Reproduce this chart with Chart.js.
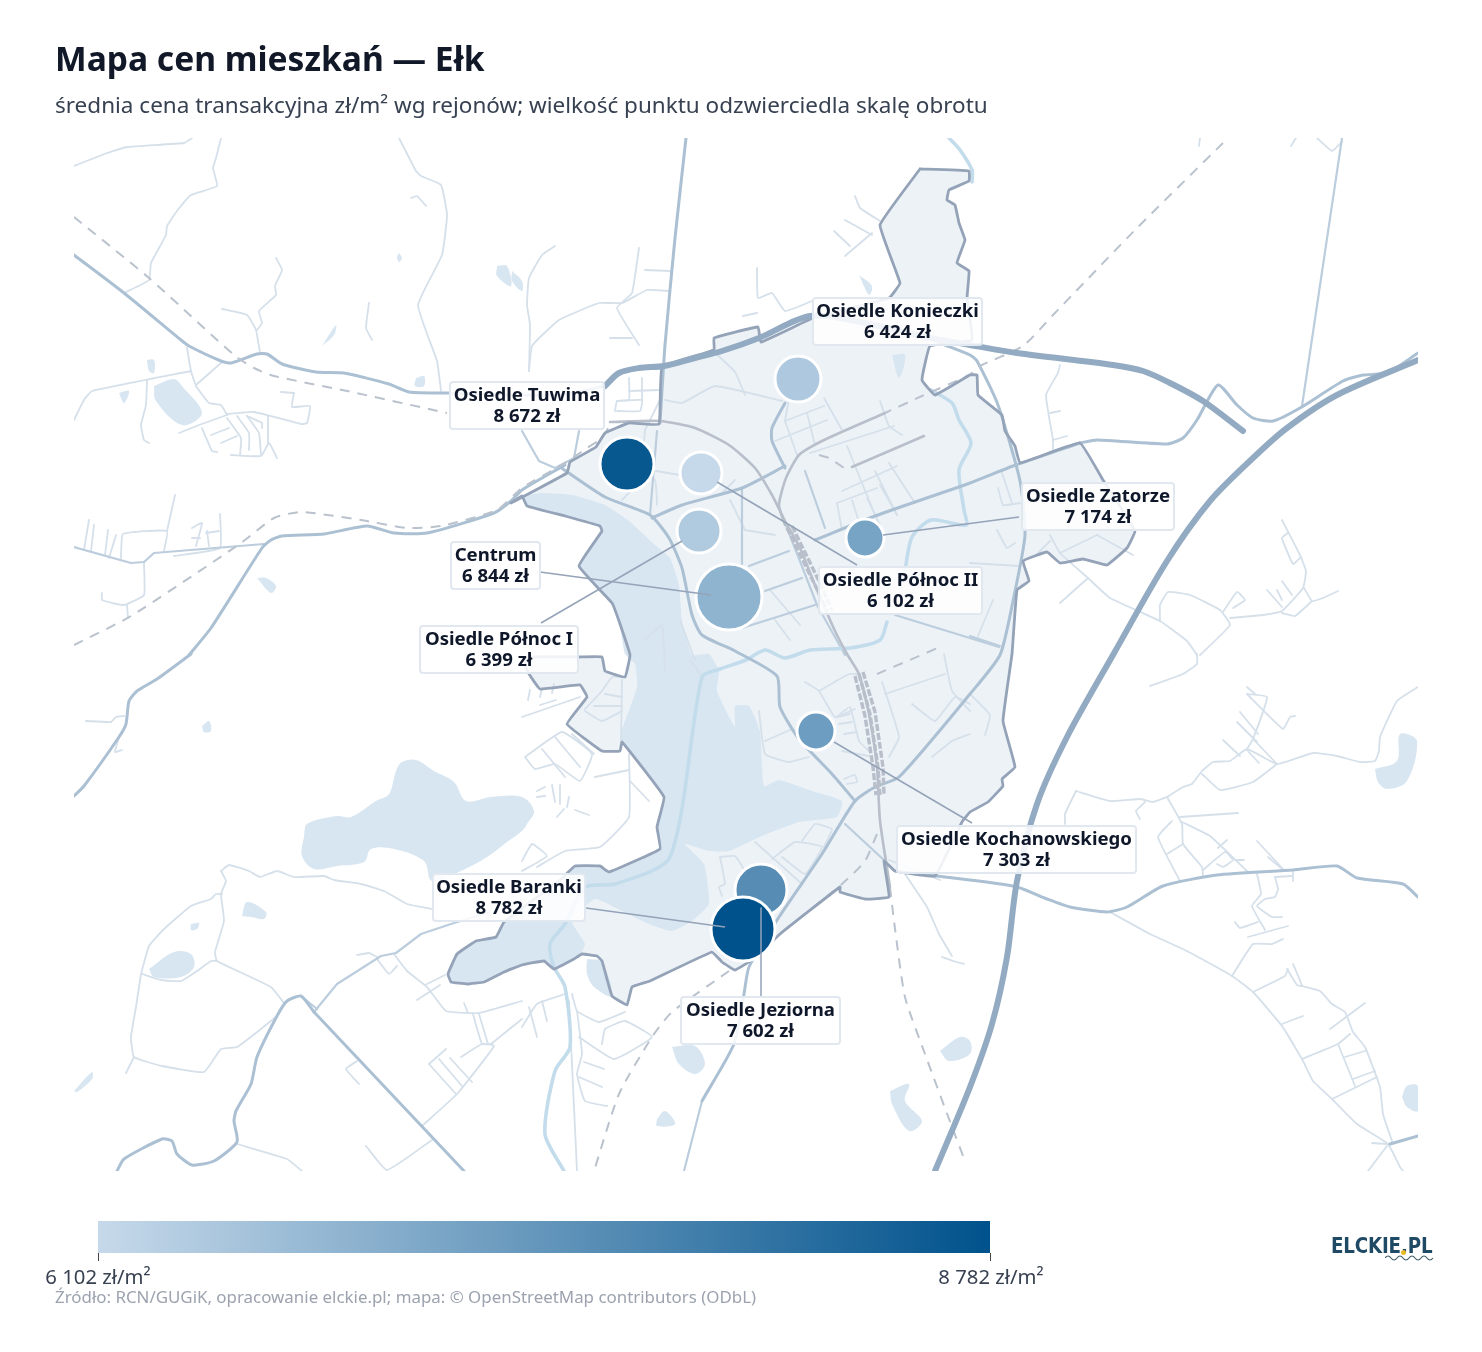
<!DOCTYPE html>
<html lang="pl">
<head>
<meta charset="utf-8">
<title>Mapa cen mieszkań — Ełk</title>
<script src="https://cdn.jsdelivr.net/npm/chart.js@4/dist/chart.umd.min.js"></script>
<style>
  html, body { margin: 0; padding: 0; background: #fff; }
  #page { position: relative; width: 1482px; height: 1352px; overflow: hidden; font-family: "Noto Sans", sans-serif; }
  #mapChart { position: absolute; left: 0; top: 0; }
  .txt { position: absolute; white-space: nowrap; }
  #title { left: 55px; top: 36px; font-size: 33.6px; line-height: 44px; font-weight: 700; color: #111827; }
  #subtitle { left: 55px; top: 90px; font-size: 22.5px; line-height: 30px; color: #374151; }
  #source { left: 55px; top: 1286px; font-size: 16.9px; line-height: 22px; color: #9ca3af; }
  #colorbar { position: absolute; left: 98px; top: 1221px; width: 892px; height: 32px; background: linear-gradient(to right, #c6d9ea, #00528c); }
  .tick { position: absolute; top: 1253px; width: 1px; height: 8px; background: #444; }
  .ticklabel { top: 1263px; font-size: 20.3px; line-height: 26px; color: #374151; transform: translateX(-50%); }
  .lbl { position: absolute; box-sizing: border-box; background: rgba(255,255,255,.86); border: 2px solid #e2e8f0; border-radius: 4px;
         text-align: center; font-weight: 700; font-size: 18.6px; line-height: 21px; color: #0f172a; padding-top: 0; white-space: nowrap; }
  #logo { left: 1331px; top: 1231px; font-size: 22px; line-height: 30px; font-weight: 800; color: #1f4a66; letter-spacing: -.2px; font-family: "DejaVu Sans", sans-serif; transform-origin: left top; transform: scaleX(.83); }
</style>
</head>
<body>
<div id="page">
  <canvas id="mapChart" width="1482" height="1352"></canvas>
  <div class="txt" id="title">Mapa cen mieszkań — Ełk</div>
  <div class="txt" id="subtitle">średnia cena transakcyjna zł/m² wg rejonów; wielkość punktu odzwierciedla skalę obrotu</div>
  <div id="colorbar"></div>
  <div class="tick" style="left:98px"></div>
  <div class="tick" style="left:990px"></div>
  <div class="txt ticklabel" id="tickMin" style="left:98px"></div>
  <div class="txt ticklabel" id="tickMax" style="left:991px"></div>
  <div class="txt" id="source">Źródło: RCN/GUGiK, opracowanie elckie.pl; mapa: © OpenStreetMap contributors (ODbL)</div>
  <div class="txt" id="logo">ELCKIE.PL</div>
  <svg style="position:absolute;left:1385px;top:1253px" width="50" height="10"><path d="M0 5 q3 -4 6 0 t6 0 t6 0 t6 0 t6 0 t6 0 t6 0 t6 0" fill="none" stroke="#44606f" stroke-width="1.2"/></svg>
  <div style="position:absolute;left:1401px;top:1250px;width:5px;height:5px;border-radius:50%;background:#e8b923"></div>
</div>

<script>
// Districts (drawn in this order, Baranki ends up on top of Jeziorna)
const districtNames = ["Osiedle Konieczki", "Osiedle Tuwima", "Osiedle Północ II", "Osiedle Północ I", "Centrum", "Osiedle Zatorze", "Osiedle Kochanowskiego", "Osiedle Jeziorna", "Osiedle Baranki"];
const districtPrices = [6424, 8672, 6102, 6399, 6844, 7174, 7303, 7602, 8782];
const districtX = [798, 627, 701, 699, 729, 865, 816, 761, 743];
const districtY = [379, 464, 473, 531, 597, 538, 731, 890, 929];
const districtRadius = [23, 27, 21, 22, 33, 19, 19, 26, 32];

const priceMin = 6102;
const priceMax = 8782;

// Map layers, in map units: x0,y0,x1,y1,...
const cityOutline = [920,169, 969,171, 969,181, 949,190, 947,200, 955,205, 959,223, 965,240, 957,263, 969,271, 967,298, 972,340, 930,346, 922,380, 935,395, 970,375, 977,375, 978,395, 1002,415, 1005,431, 1015,446, 1020,463, 1080,443, 1103,480, 1135,531, 1127,548, 1107,565, 1083,559, 1060,563, 1047,552, 1023,561, 1029,581, 1017,590, 1012,654, 1003,721, 1015,767, 1002,779, 1003,786, 988,802, 970,812, 962,822, 935,876, 895,871, 884,861, 889,897, 865,899, 840,892, 840,887, 780,934, 755,958, 735,970, 722,962, 712,952, 650,981, 632,987, 627,1005, 612,996, 602,961, 597,956, 582,954, 574,959, 554,969, 544,961, 522,965, 504,972, 484,982, 467,984, 451,982, 448,974, 457,954, 476,941, 496,937, 504,922, 560,880, 575,866, 600,866, 609,872, 660,849, 657,827, 664,797, 622,742, 620,751, 602,751, 567,724, 587,697, 580,685, 540,689, 529,674, 525,665, 530,657, 579,657, 602,657, 605,671, 625,677, 630,655, 619,621, 612,603, 579,566, 602,531, 600,526, 565,516, 527,506, 522,496, 511,503, 567,473, 570,462, 596,447, 605,433, 629,423, 659,424, 662,367, 714,350, 714,338, 758,327, 761,342, 813,318, 889,298, 900,283, 880,225, 920,169];

const cityLake = [522,496, 542,493, 572,495, 605,505, 629,521, 655,545, 670,558, 679,585, 682,621, 692,655, 709,654, 719,671, 717,691, 735,727, 735,706, 749,706, 760,731, 764,786, 779,780, 812,791, 842,801, 837,817, 799,822, 762,836, 729,851, 709,851, 685,844, 704,864, 709,904, 692,921, 672,931, 649,924, 622,911, 595,899, 572,921, 585,944, 579,956, 554,969, 544,961, 522,965, 504,972, 484,982, 467,984, 451,982, 448,974, 457,954, 476,941, 496,937, 504,922, 560,880, 575,866, 600,866, 609,872, 660,849, 657,827, 664,797, 622,742, 622,730, 637,687, 635,664, 625,654, 619,621, 612,603, 579,566, 602,531, 600,526, 565,516, 527,506, 522,496];

const waterBodies = [
  [304,836, 307,824, 337,816, 351,817, 376,801, 389,794, 396,771, 402,762, 416,760, 434,771, 454,782, 466,801, 491,797, 522,797, 534,811, 527,824, 522,831, 507,842, 487,857, 461,871, 432,881, 424,861, 394,849, 371,849, 364,862, 337,866, 314,869, 302,856, 304,836],
  [154,386, 174,379, 182,386, 202,413, 182,425, 156,401, 154,386],
  [147,360, 154,360, 154,373, 149,371, 147,360],
  [322,346, 336,325, 334,335, 322,346],
  [119,393, 129,391, 124,403, 119,393],
  [416,378, 424,376, 424,386, 415,386, 416,378],
  [257,578, 266,578, 276,586, 271,593, 257,578],
  [497,266, 507,266, 511,286, 497,276, 497,266],
  [512,271, 522,281, 522,291, 512,281, 512,271],
  [399,253, 402,258, 399,262, 397,257, 399,253],
  [149,969, 174,952, 191,954, 194,967, 181,977, 154,977, 149,969],
  [242,916, 247,902, 266,912, 264,919, 251,917, 242,916],
  [191,924, 199,923, 197,929, 191,930, 191,924],
  [202,726, 209,721, 211,731, 204,732, 202,726],
  [74,1091, 92,1072, 92,1079, 77,1092, 74,1091],
  [672,1047, 695,1046, 705,1064, 695,1074, 679,1064, 672,1047],
  [657,1119, 665,1111, 675,1124, 657,1126, 657,1119],
  [890,1091, 909,1084, 905,1101, 922,1121, 909,1131, 892,1104, 890,1091],
  [940,1051, 960,1037, 970,1041, 970,1054, 949,1061, 940,1051],
  [1375,769, 1397,761, 1400,734, 1417,741, 1407,781, 1387,789, 1378,782, 1375,769],
  [1402,1097, 1407,1086, 1418,1086, 1418,1111, 1407,1107, 1402,1097],
  [587,959, 602,962, 612,996, 594,987, 587,974, 587,959],
  [892,355, 905,355, 899,378, 892,355],
  [859,275, 872,286, 869,295, 859,275]
];

const minorRoads = [
  [74,166, 107,153, 127,147, 184,143, 192,138],
  [221,138, 216,158, 213,168, 217,186, 191,195, 177,211, 167,226, 166,235, 151,263, 149,280, 124,293],
  [399,138, 416,171, 421,176, 441,185, 447,215, 442,255, 418,305, 437,361, 441,391],
  [411,198, 417,196, 426,206],
  [276,258, 282,270, 275,286, 276,295, 259,311, 262,323, 257,330],
  [222,309, 247,315, 256,330, 260,353],
  [369,303, 366,328, 372,340],
  [89,520, 84,550], [94,525, 91,551], [108,530, 105,555], [116,535, 109,558],
  [121,558, 123,534, 167,531, 164,551], [175,495, 167,531],
  [192,528, 202,523, 196,546], [192,538, 200,538],
  [220,514, 220,548, 174,556], [206,533, 219,531], [207,531, 209,546],
  [144,563, 144,595, 124,605, 102,600, 102,593], [127,605, 128,618],
  [187,348, 191,371, 196,386, 209,403, 221,405, 227,415],
  [221,363, 196,385],
  [191,371, 92,391, 84,400, 74,420],
  [147,381, 146,405, 141,425, 144,440, 149,443],
  [227,414, 254,412, 301,424, 307,423, 310,406, 292,407, 294,393], [281,392, 294,393],
  [179,433, 199,425, 227,415],
  [202,428, 212,451, 217,452], [211,435, 229,428], [221,443, 237,436],
  [231,455, 261,456, 269,443, 277,458], [227,418, 241,438, 240,455], [237,416, 249,433, 249,450],
  [247,416, 259,433, 261,455], [247,416, 262,423, 262,428], [268,416, 268,443],
  [639,248, 632,293, 617,308, 639,345],
  [669,291, 647,290, 622,303, 599,303, 559,320, 532,346, 529,371],
  [645,270, 670,271], [610,338, 632,338],
  [555,246, 542,255, 529,278, 527,305, 530,325, 529,371],
  [855,196, 860,208, 880,221], [845,220, 872,235], [834,231, 850,246], [872,233, 845,256],
  [757,268, 758,298, 772,293, 785,311, 812,301], [743,316, 757,313],
  [629,378, 629,400, 617,401, 615,411], [629,391, 660,390], [617,401, 642,400, 640,411, 617,411], [642,378, 642,400],
  [665,400, 682,403, 715,386, 782,401],
  [775,441, 827,420], [785,421, 824,406], [807,413, 815,445], [824,398, 842,430], [785,421, 797,455],
  [790,392, 785,421], [810,453, 894,426], [880,401, 889,426, 902,435],
  [842,491, 897,466], [837,503, 877,488], [847,446, 875,515], [875,471, 897,515], [889,463, 915,503],
  [837,503, 842,530], [852,500, 860,525], [867,498, 880,525], [880,485, 897,515],
  [712,350, 735,372, 745,395], [660,400, 645,430],
  [632,470, 655,480, 657,505], [650,470, 680,475], [720,495, 735,480],
  [730,500, 745,530], [745,530, 775,535], [775,620, 790,640], [770,590, 800,625],
  [680,620, 695,660], [690,660, 705,680], [645,640, 662,625, 665,670],
  [645,430, 640,480, 622,500],
  [720,857, 725,884, 719,887, 722,896], [720,857, 735,856, 747,874],
  [772,859, 795,842, 822,847, 805,874, 782,857], [802,841, 815,824, 832,829, 824,847], [755,842, 802,884],
  [759,711, 765,754, 789,762, 809,757], [765,741, 792,729], [819,691, 849,674, 859,674],
  [805,682, 819,691, 835,717, 855,709], [837,717, 850,707, 859,741, 869,751], [837,717, 850,714], [839,724, 852,722], [844,734, 857,732],
  [842,751, 869,756], [844,779, 855,775, 857,782, 847,784],
  [882,682, 899,737, 889,757], [885,694, 945,674], [912,704, 935,721, 955,697, 970,704],
  [944,654, 952,691, 970,711], [932,757, 952,741, 970,734], [970,694, 990,715, 985,735],
  [525,757, 562,732, 592,754, 580,781, 555,764, 535,769, 525,757], [542,749, 565,777], [555,737, 580,767], [572,734, 594,754],
  [537,867, 565,851, 600,847, 629,817, 629,754], [629,770, 595,777], [630,781, 649,801],
  [522,861, 532,844, 547,856, 522,871],
  [552,785, 555,802], [560,785, 560,804], [569,797, 567,807], [557,817, 564,809], [537,791, 545,787], [537,797, 545,796], [575,810, 589,815],
  [585,711, 602,721, 622,711], [605,694, 622,697], [594,706, 622,706], [622,677, 612,677, 602,691, 585,709],
  [522,717, 580,697], [540,705, 556,700], [528,700, 530,690], [540,697, 542,688], [552,693, 554,684], [622,680, 621,742],
  [572,994, 577,1011, 599,1022, 625,1012], [577,1011, 582,1054, 577,1074, 585,1101, 607,1106],
  [579,1037, 614,1059, 652,1037, 625,1021, 605,1029, 602,1044], [584,1062, 604,1069], [579,1077, 602,1087],
  [569,1001, 577,1171], [522,1027, 537,1004, 565,994], [529,1007, 537,1037], [542,1001, 547,1021],
  [905,874, 927,907, 939,934, 952,956], [942,957, 953,961, 964,964],
  [889,860, 940,880],
  [1060,365, 1058,373, 1046,395, 1053,440, 1053,450], [1050,413, 1060,411], [1053,440, 1067,436],
  [1317,138, 1332,151, 1342,142], [1296,138, 1291,146], [1200,138, 1199,146],
  [1050,535, 1060,553, 1088,578, 1110,598, 1160,621, 1187,641, 1197,655], [1088,578, 1060,603],
  [1160,621, 1160,605, 1168,592, 1190,595, 1220,610, 1230,625, 1200,655],
  [1230,618, 1263,615, 1282,611, 1303,588, 1306,571, 1300,555, 1282,520], [1300,558, 1293,564, 1282,538, 1288,533],
  [1304,588, 1312,601, 1323,598, 1338,591], [1312,601, 1295,616, 1282,613],
  [1223,612, 1237,592, 1245,600, 1233,608], [1267,590, 1282,607], [1277,590, 1282,600], [1282,581, 1292,595],
  [1060,553, 1097,535], [1097,535, 1133,555], [1038,553, 1050,541],
  [998,488, 1003,505, 1020,503], [1002,473, 1012,503], [997,530, 1007,548, 1015,543], [993,600, 978,636], [970,563, 1020,566],
  [1150,686, 1183,674, 1197,664, 1197,654],
  [1167,797, 1183,787, 1192,784, 1202,771, 1213,762, 1230,761, 1247,749, 1277,764, 1313,753, 1337,756, 1360,762, 1375,761, 1379,751, 1380,737, 1397,701, 1418,687],
  [1202,774, 1220,790, 1253,782, 1277,764],
  [1247,749, 1253,739, 1267,697, 1247,694], [1247,694, 1283,729, 1290,717, 1295,716], [1247,687, 1255,694],
  [1240,712, 1258,734], [1237,722, 1257,742], [1223,740, 1240,756], [1253,739, 1277,764], [1247,750, 1259,763],
  [1076,791, 1065,814, 1065,824], [1076,791, 1110,801, 1140,799, 1153,802, 1167,797], [1145,802, 1136,811, 1140,819],
  [1167,797, 1182,824, 1183,844, 1202,867, 1203,876], [1180,817, 1238,813], [1182,822, 1210,836, 1247,871], [1172,821, 1158,837, 1180,881], [1183,844, 1167,854],
  [1203,870, 1225,852, 1233,860, 1223,867, 1217,864], [1218,848, 1227,840], [1257,841, 1283,869], [1268,857, 1282,869], [1235,860, 1244,860],
  [1257,874, 1261,894, 1252,906, 1265,930], [1293,871, 1293,881], [1275,877, 1292,876], [1275,877, 1278,889, 1275,897, 1265,899, 1257,906, 1272,917, 1282,917],
  [1235,922, 1240,928, 1258,922], [1248,937, 1288,926], [1232,976, 1253,944, 1272,944, 1283,939],
  [1253,992, 1285,976, 1288,969], [1287,969, 1297,985, 1302,986, 1293,964],
  [1302,986, 1320,991, 1332,1004, 1345,1012, 1353,1032, 1365,1047, 1380,1087, 1383,1114, 1393,1144],
  [1282,1024, 1303,1016], [1330,1029, 1365,1003], [1302,1059, 1338,1044, 1350,1034], [1338,1044, 1355,1086], [1345,1057, 1365,1051], [1353,1079, 1375,1071], [1332,1099, 1377,1077],
  [1110,912, 1150,934, 1187,951, 1232,976, 1253,992, 1282,1026, 1303,1061, 1313,1081, 1332,1099, 1357,1124, 1388,1144, 1400,1167, 1403,1171],
  [1387,1146, 1368,1171], [1372,1143, 1387,1144],
  [86,721, 111,722, 116,717, 124,716], [119,737, 115,752, 122,750],
  [141,974, 149,946, 164,929, 191,906, 211,899, 216,894, 222,894],
  [141,974, 136,1007, 131,1037, 134,1057, 162,1066, 204,1072, 221,1049, 237,1047, 261,1029, 277,1016],
  [221,871, 229,865, 249,871, 260,877, 277,871, 294,877, 324,876, 334,880, 361,884, 384,891, 407,904, 432,909],
  [221,871, 226,881, 221,894, 224,921, 215,952, 217,961, 271,987, 284,1003],
  [142,974, 161,980, 181,981, 197,971, 211,961, 217,961], [134,1057, 126,1073],
  [394,954, 407,971, 427,987, 446,1011, 479,1013, 522,1001],
  [377,959, 389,974, 397,966], [357,955, 369,953, 377,957],
  [464,1003, 468,1013], [473,1014, 482,1044, 492,1044], [479,1014, 488,1044],
  [429,1064, 446,1049], [429,1064, 456,1094], [439,1059, 462,1086], [450,1058, 472,1082],
  [461,1057, 482,1044, 494,1046, 457,1094, 422,1126], [522,1019, 491,1044],
  [366,1146, 387,1170, 432,1140], [357,1061, 346,1069, 359,1084], [237,1144, 287,1159, 302,1171],
  [417,1000, 440,985], [425,985, 445,975]
];

const secondaryRoads = [
  [74,547, 131,563, 144,562, 154,553, 264,544],
  [522,431, 539,461, 555,468, 574,458, 579,431],
  [1302,406, 1342,138],
  [805,471, 825,528],
  [749,566, 789,551], [765,591, 802,578], [742,628, 815,605],
  [742,488, 742,565],
  [895,615, 999,647],
  [782,515, 817,605, 845,655],
  [845,824, 885,861],
  [970,636, 1000,646],
  [314,1012, 337,984, 381,956, 396,953, 421,934, 451,924, 490,912],
  [301,996, 317,1009],
  [657,431, 650,515],
  [684,1171, 702,1101]
];

const mainRoads = [
  [74,255, 124,293, 181,340, 189,346, 221,361, 231,363, 257,354, 267,354, 282,364, 316,372, 344,373, 389,384, 409,392, 447,393, 560,395, 605,386],
  [189,655, 211,628, 262,548, 271,540, 282,536, 324,534, 367,526, 394,533, 427,533, 494,513, 511,501, 522,490, 565,465],
  [191,654, 157,679, 137,691, 129,701, 126,724, 119,737, 84,786, 74,796],
  [686,138, 675,238, 665,345, 660,423],
  [785,403, 772,428, 772,441, 785,468],
  [560,467, 605,497, 650,515, 669,538, 682,568, 692,615, 702,635, 735,651, 777,676, 780,707, 799,739, 832,774, 855,801],
  [652,518, 682,505, 742,488, 785,466],
  [815,540, 875,516, 970,483, 1013,466, 1080,443],
  [945,345, 970,355, 977,361, 998,405, 1020,481, 1025,535, 1013,601, 1000,655, 970,694, 899,777, 875,787, 855,801, 822,854, 779,917, 749,967, 744,994, 734,1044, 702,1101],
  [1080,443, 1097,440, 1167,444, 1183,438, 1197,420, 1218,385, 1237,405, 1253,418, 1273,421, 1300,408, 1343,381, 1363,375, 1387,373, 1418,353],
  [895,871, 970,880, 1017,887, 1047,899, 1070,907, 1107,912, 1127,907, 1163,886, 1217,875, 1293,870, 1337,866, 1357,878, 1403,884, 1418,897],
  [1390,1144, 1418,1136],
  [314,1012, 301,996, 287,1001, 277,1016, 257,1057, 251,1084, 236,1111, 234,1121, 237,1142, 214,1161, 192,1165, 177,1154, 172,1141, 162,1139, 124,1159, 117,1171],
  [314,1012, 464,1171]
];

const highways = [
  [605,386, 619,373, 639,368, 664,366, 695,358, 722,351, 759,338, 810,316, 860,322, 930,338, 970,345, 1017,353, 1113,365, 1143,371, 1170,383, 1203,401, 1243,431],
  [1418,360, 1337,395, 1287,428, 1253,458, 1210,501, 1167,561, 1113,655, 1067,737, 1037,804, 1017,881, 1007,957, 992,1024, 970,1087, 935,1171]
];

const rivers = [
  [949,138, 960,150, 972,170, 972,182],
  [931,390, 952,403, 959,420, 971,443, 959,470, 964,510, 966,525, 931,520, 912,537, 905,570],
  [887,622, 880,640, 850,648, 810,650, 785,658, 765,650, 746,660, 720,669, 702,677, 670,857, 615,884, 585,887, 565,924, 550,944, 554,967, 565,987, 570,1047, 555,1071, 545,1134, 564,1171]
];

const railDashed = [
  [74,217, 149,278, 234,355, 254,368, 274,376, 347,391, 447,413],
  [74,645, 131,616, 241,543, 274,518, 301,512, 361,520, 407,528, 441,526, 497,510, 522,488, 565,463, 587,448, 602,438, 610,425],
  [1223,143, 1137,228, 1053,315, 1023,346, 980,366, 969,375, 922,396, 885,413],
  [819,455, 829,458, 844,468],
  [877,674, 940,647],
  [877,834, 865,861, 842,884, 782,932],
  [729,971, 672,1012, 652,1037, 619,1094, 594,1171],
  [890,887, 894,921, 905,997, 925,1054, 952,1127, 965,1161]
];

const railSolid = [
  [610,422, 660,421, 695,428, 729,445, 755,468, 772,495, 785,521, 800,548, 815,585, 835,631, 847,654, 859,674, 869,714, 877,767, 880,821, 890,887],
  [885,413, 822,441, 799,455, 786,478, 779,505, 785,525],
  [852,467, 924,436]
];

// Parallel tracks of the station yard
const railYard = [
  [787,528, 813,581, 828,612],
  [792,526, 818,579, 832,610],
  [855,676, 865,716, 873,767, 876,795],
  [859,674, 870,714, 878,767, 880,795],
  [863,672, 875,712, 883,767, 884,795]
];

const leaderLines = [
  [717,482, 857,565],
  [682,541, 541,623],
  [540,572, 711,595],
  [883,535, 1019,517],
  [834,742, 972,823],
  [761,908, 761,996],
  [586,908, 725,927]
];

// Label boxes in map units: left, top, width, height, same order as districtNames
const labelBoxes = [
  [812,297,171,49], [449,381,156,49], [818,566,165,49], [419,625,160,49], [450,541,91,49],
  [1021,482,154,49], [896,825,241,49], [680,996,161,49], [432,873,154,49]
];

function toPoints(flat) {
  const out = [];
  for (let i = 0; i < flat.length; i += 2) out.push({ x: flat[i], y: flat[i + 1] });
  return out;
}

function lineLayer(list, style) {
  return list.map(flat => Object.assign({
    type: "scatter",
    showLine: true,
    data: toPoints(flat),
    pointRadius: 0,
    borderCapStyle: "round",
    borderJoinStyle: "round",
    tension: 0
  }, style));
}

// Colour scale of the legend
function priceColor(price) {
  const t = (price - priceMin) / (priceMax - priceMin);
  const r = Math.round(198 + (0 - 198) * t);
  const g = Math.round(217 + (82 - 217) * t);
  const b = Math.round(234 + (140 - 234) * t);
  return `rgb(${r},${g},${b})`;
}

function formatPrice(v) {
  return String(v).replace(/\B(?=(\d{3})+$)/g, " ");
}

const layers = [
  ...lineLayer([cityOutline], { borderWidth: 0, fill: "shape", backgroundColor: "#edf2f7" }),
  ...lineLayer([cityLake], { borderWidth: 0, fill: "shape", backgroundColor: "#d8e6f2", tension: 0.15 }),
  ...lineLayer(waterBodies, { borderWidth: 0, fill: "shape", backgroundColor: "#d8e6f2", tension: 0.35 }),
  ...lineLayer(minorRoads, { borderColor: "#d5e0ea", borderWidth: 1.8, tension: 0.12 }),
  ...lineLayer(secondaryRoads, { borderColor: "#bccddd", borderWidth: 2.2 }),
  ...lineLayer(rivers, { borderColor: "#c3dcec", borderWidth: 3.6, tension: 0.25 }),
  ...lineLayer(mainRoads, { borderColor: "#abc0d3", borderWidth: 3, tension: 0.2 }),
  ...lineLayer(railYard, { borderColor: "#b8bfca", borderWidth: 3.4, borderDash: [7, 2], borderCapStyle: "butt" }),
  ...lineLayer(railSolid, { borderColor: "#b8bfca", borderWidth: 2.6, tension: 0.2 }),
  ...lineLayer(railDashed, { borderColor: "#bac2cd", borderWidth: 2, borderDash: [10, 8], borderCapStyle: "butt", tension: 0.2 }),
  ...lineLayer([cityOutline], { borderColor: "#94a3b8", borderWidth: 2.8, tension: 0.08 }),
  ...lineLayer(highways, { borderColor: "#93abc2", borderWidth: 6, tension: 0.3 }),
  {
    type: "bubble",
    data: districtPrices.map((p, i) => ({ x: districtX[i], y: districtY[i], r: districtRadius[i] })),
    backgroundColor: districtPrices.map(priceColor),
    borderColor: "#ffffff",
    borderWidth: 3,
    clip: false
  },
  ...lineLayer(leaderLines, { borderColor: "#94a3b8", borderWidth: 1.5, borderCapStyle: "butt" })
];

// Chart.js paints the lowest order last, so the list above runs bottom to top
layers.forEach((ds, i) => { ds.order = layers.length - i; });

const chart = new Chart(document.getElementById("mapChart"), {
  data: { datasets: layers },
  options: {
    responsive: false,
    animation: false,
    events: [],
    layout: { padding: { left: 74, right: 64, top: 138, bottom: 181 } },
    plugins: { legend: { display: false }, tooltip: { enabled: false } },
    scales: {
      x: { type: "linear", min: 74, max: 1418, display: false },
      y: { type: "linear", min: 138, max: 1171, reverse: true, display: false }
    }
  }
});

// Labels are plain text on top of the canvas, placed through the chart scales
const page = document.getElementById("page");
districtNames.forEach((name, i) => {
  const box = labelBoxes[i];
  const el = document.createElement("div");
  el.className = "lbl";
  el.style.left = chart.scales.x.getPixelForValue(box[0]) + "px";
  el.style.top = chart.scales.y.getPixelForValue(box[1]) + "px";
  el.style.width = box[2] + "px";
  el.style.height = box[3] + "px";
  el.innerHTML = `${name}<br>${formatPrice(districtPrices[i])} zł`;
  page.appendChild(el);
});

document.getElementById("tickMin").textContent = `${formatPrice(priceMin)} zł/m²`;
document.getElementById("tickMax").textContent = `${formatPrice(priceMax)} zł/m²`;
</script>
</body>
</html>
